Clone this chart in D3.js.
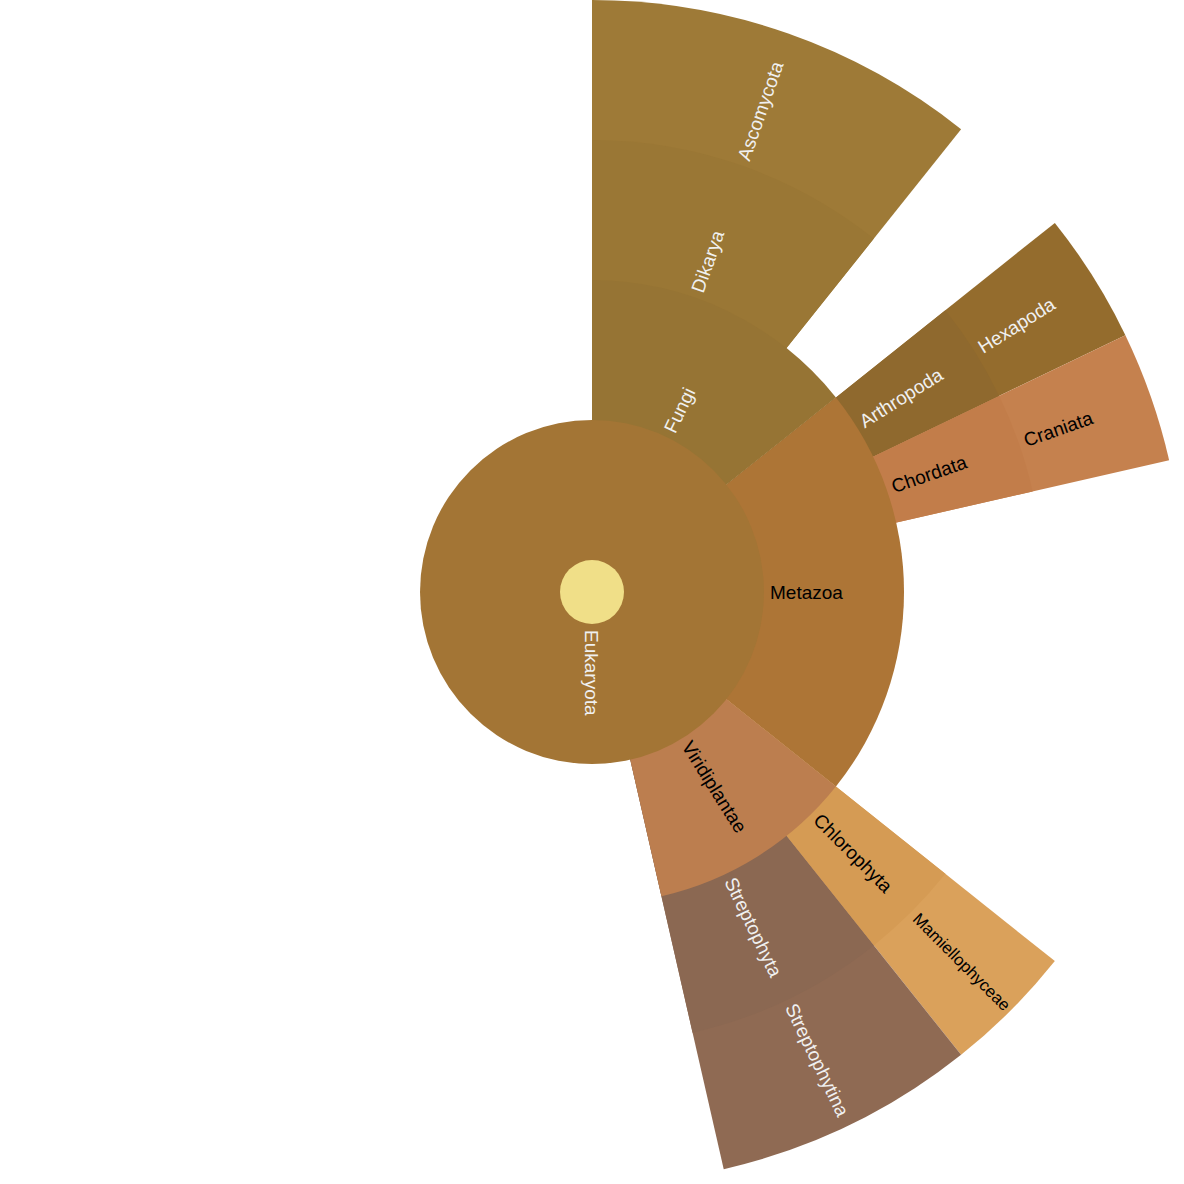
<!DOCTYPE html>
<html>
<head>
<meta charset="utf-8">
<script src="https://cdn.jsdelivr.net/npm/d3@7"></script>
<style>
  html, body { margin: 0; padding: 0; background: #fff; }
  svg { display: block; }
</style>
</head>
<body>
<div id="canvas"></div>
<script>
// taxa, their parent and the count of each node (children included)
var names   = ["root", "Eukaryota", "Fungi", "Dikarya", "Ascomycota", "Metazoa", "Arthropoda", "Hexapoda",
               "Chordata", "Craniata", "Viridiplantae", "Chlorophyta", "Mamiellophyceae", "Streptophyta", "Streptophytina"];
var parents = ["", "root", "Eukaryota", "Fungi", "Dikarya", "Eukaryota", "Metazoa", "Arthropoda",
               "Metazoa", "Chordata", "Eukaryota", "Viridiplantae", "Chlorophyta", "Viridiplantae", "Streptophyta"];
var counts  = [28, 28, 4, 3, 3, 6, 1, 1, 1, 1, 3, 1, 1, 2, 2];
var colors  = ["#f0df88", "#a37535", "#967434", "#9a7735", "#9e7a37", "#ad7536", "#8f692e", "#946c2d",
               "#c27d4a", "#c5814e", "#bc7e4f", "#d59b54", "#daa15b", "#8b6852", "#8f6a53"];
// labels drawn in light text
var lightLabels = ["Eukaryota", "Fungi", "Dikarya", "Ascomycota", "Arthropoda", "Hexapoda", "Streptophyta", "Streptophytina"];

var w = 1184, h = 1184;
var cx = 592, cy = 592;
var coreR = 32, ringW = 140;
var fontPx = 19, pad = 6;

var rows = names.map(function(n, i) { return { name: n, parent: parents[i], count: counts[i], color: colors[i] }; });
var root = d3.stratify().id(d => d.name).parentId(d => d.parent || null)(rows);
// use the counts as they are, so children fill only their share of the parent
root.each(d => d.value = d.data.count);

d3.partition().size([2 * Math.PI, root.height + 1])(root);

var radius = d3.scaleLinear().domain([1, root.height + 1]).range([coreR, coreR + ringW * root.height]);

// each node is a wedge from the center, deeper ones painted first so parents cover their inner part
var wedge = d3.arc()
    .startAngle(d => d.x0)
    .endAngle(d => d.x1)
    .innerRadius(0)
    .outerRadius(d => radius(d.y1));

var svg = d3.select("#canvas").append("svg").attr("width", w).attr("height", h);
var g = svg.append("g").attr("transform", "translate(" + cx + "," + cy + ")");

var nodes = root.descendants().filter(d => d.depth > 0);
var painted = nodes.slice().sort((a, b) => b.depth - a.depth);

g.append("g").attr("name", "arcs")
  .selectAll("path")
  .data(painted)
  .join("path")
    .attr("d", wedge)
    .style("fill", d => d.data.color);

// center dot
g.append("circle").attr("r", coreR).style("fill", root.data.color);

var labels = g.append("g").attr("name", "labels")
  .selectAll("text")
  .data(nodes)
  .join("text")
    .attr("transform", function(d) {
        var a = (d.x0 + d.x1) / 2 * 180 / Math.PI - 90;
        return "rotate(" + a + ") translate(" + (radius(d.y0) + pad) + ",0)";
    })
    .attr("dy", "0.35em")
    .style("font-family", "'Liberation Sans', Arial, Helvetica, sans-serif")
    .style("font-size", fontPx + "px")
    .style("fill", d => lightLabels.indexOf(d.data.name) >= 0 ? "#f0f0f0" : "#000")
    .text(d => d.data.name);

// shrink labels that do not fit in their ring
labels.each(function(d) {
    var room = radius(d.y1) - radius(d.y0) - pad - 4;
    var len = this.getComputedTextLength();
    if (len > room) d3.select(this).style("font-size", (fontPx * room / len) + "px");
});
</script>
</body>
</html>
